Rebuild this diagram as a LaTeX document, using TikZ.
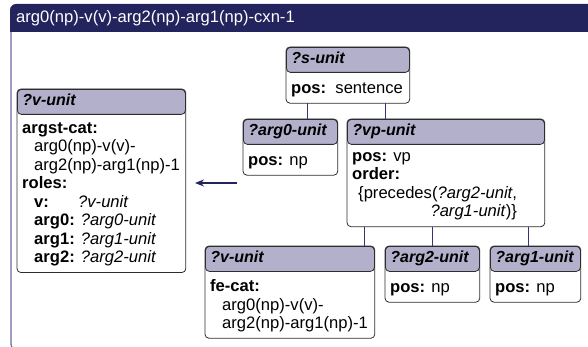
\documentclass[tikz,border=0pt]{standalone}
\usepackage{fontspec}
\setmainfont{Liberation Sans}
\usetikzlibrary{arrows.meta,positioning}

\definecolor{barblue}{RGB}{35,35,94}
\definecolor{headfill}{RGB}{178,176,202}
\definecolor{framepurple}{RGB}{104,104,170}
\definecolor{linkblue}{RGB}{52,52,120}
\definecolor{boxline}{RGB}{45,45,45}

\tikzset{
  unithead/.style={draw=boxline, fill=headfill, line width=0.8pt, rounded corners=4pt,
    anchor=north west, minimum height=25pt, inner xsep=5pt, inner ysep=0pt, align=left,
    font=\fontsize{16}{18.5}\selectfont\bfseries\itshape, execute at begin node=\strut},
  unitbody/.style={inner xsep=5pt, inner ysep=4pt, align=left,
    execute at begin node=\strut, execute at end node=\strut},
  unitframe/.style={draw=boxline, line width=0.8pt, rounded corners=4pt},
  link/.style={draw=linkblue, line width=1pt},
  flow/.style={draw=barblue, line width=1.5pt, -{Stealth[length=9pt,width=7pt]}},
}

\begin{document}
\begin{tikzpicture}[x=1pt,y=-1pt,font=\fontsize{16.6}{18.5}\selectfont]
\useasboundingbox (0,0) rectangle (588,347);
\clip (0,0) rectangle (588,347);

% construction frame and title bar
\draw[framepurple, line width=1.2pt, rounded corners=6pt] (11,20) -- (11,350) -- (620,350);
\fill[barblue, rounded corners=6pt] (10,4) rectangle (620,22);
\fill[barblue] (10,14) rectangle (620,32);
\node[anchor=west, text=white, inner sep=0pt] (title) at (16,18) {arg0(np)-v(v)-arg2(np)-arg1(np)-cxn-1};

% ?s-unit
\node[unithead, text width=113pt] (sunith) at (286,47) {\mbox{?s-unit}};
\node[unitbody, below right=3.5pt and 0pt of sunith.south west] (sunit) {\textbf{pos:}\ \ sentence};
\draw[unitframe] (sunith.north west) rectangle (sunith.east |- sunit.south);

% ?arg0-unit
\node[unithead, text width=84pt] (arg0h) at (243,119) {\mbox{?arg0-unit}};
\node[unitbody, below right=3.5pt and 0pt of arg0h.south west] (arg0) {\textbf{pos:} np};
\draw[unitframe] (arg0h.north west) rectangle (arg0h.east |- arg0.south);

% ?vp-unit
\node[unithead, text width=187pt] (vph) at (347,119) {\mbox{?vp-unit}};
\node[unitbody, below right=3.5pt and 0pt of vph.south west] (vp) {\textbf{pos:} vp\\
  \textbf{order:}\\
  \hspace*{6pt}\begin{tabular}[t]{@{}r@{}}\{precedes(\textit{?arg2-unit},\\ \textit{?arg1-unit})\}\end{tabular}};
\draw[unitframe] (vph.north west) rectangle (vph.east |- vp.south);

% ?v-unit (result)
\node[unithead, text width=158pt] (vlefth) at (17,89) {\mbox{?v-unit}};
\node[unitbody, below right=3.5pt and 0pt of vlefth.south west] (vleft) {\textbf{argst-cat:}\\
  \hspace*{12pt}arg0(np)-v(v)-\\
  \hspace*{12pt}arg2(np)-arg1(np)-1\\
  \textbf{roles:}\\
  \hspace*{12pt}\makebox[44pt][l]{\textbf{v:}}\textit{?v-unit}\\
  \hspace*{12pt}\textbf{arg0:} \textit{?arg0-unit}\\
  \hspace*{12pt}\textbf{arg1:} \textit{?arg1-unit}\\
  \hspace*{12pt}\textbf{arg2:} \textit{?arg2-unit}};
\draw[unitframe] (vlefth.north west) rectangle (vlefth.east |- vleft.south);

% ?v-unit (verb)
\node[unithead, text width=159pt] (vfeh) at (205,246) {\mbox{?v-unit}};
\node[unitbody, below right=3.5pt and 0pt of vfeh.south west] (vfe) {\textbf{fe-cat:}\\
  \hspace*{12pt}arg0(np)-v(v)-\\
  \hspace*{12pt}arg2(np)-arg1(np)-1};
\draw[unitframe] (vfeh.north west) rectangle (vfeh.east |- vfe.south);

% ?arg2-unit
\node[unithead, text width=84pt] (arg2h) at (385,246) {\mbox{?arg2-unit}};
\node[unitbody, below right=3.5pt and 0pt of arg2h.south west] (arg2) {\textbf{pos:} np};
\draw[unitframe] (arg2h.north west) rectangle (arg2h.east |- arg2.south);

% ?arg1-unit
\node[unithead, text width=80pt] (arg1h) at (490,246) {\mbox{?arg1-unit}};
\node[unitbody, below right=3.5pt and 0pt of arg1h.south west] (arg1) {\textbf{pos:} np};
\draw[unitframe] (arg1h.north west) rectangle (arg1h.east |- arg1.south);

% tree links
\coordinate (s1) at ([xshift=17pt]arg0h.north);
\coordinate (s2) at ([xshift=38pt]vph.north west);
\draw[link] (s1 |- sunit.south) -- (s1);
\draw[link] (s2 |- sunit.south) -- (s2);
\coordinate (v1) at ([xshift=-10pt]vfeh.north east);
\coordinate (v2) at (arg2h.north);
\coordinate (v3) at ([xshift=-7pt]arg1h.north);
\draw[link] (v1 |- vp.south) -- (v1);
\draw[link] (v2 |- vp.south) -- (v2);
\draw[link] (v3 |- vp.south) -- (v3);

% result arrow
\coordinate (arrowtail) at (237,183);
\coordinate (arrowhead) at (195,183);
\draw[flow] (arrowtail) -- (arrowhead);
\end{tikzpicture}
\end{document}
